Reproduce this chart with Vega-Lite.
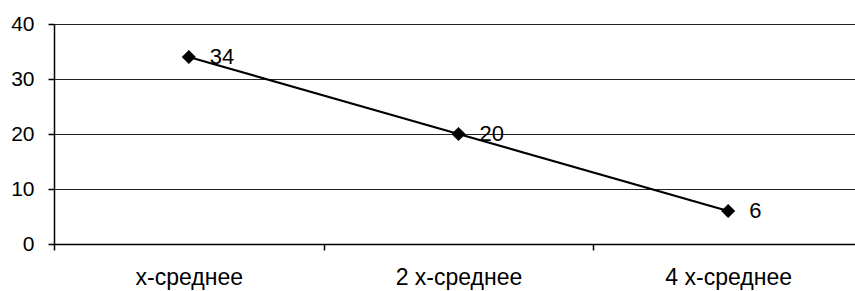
{
  "$schema": "https://vega.github.io/schema/vega-lite/v6.json",
  "autosize": "none",
  "width": 801,
  "height": 220,
  "padding": {"left": 54, "top": 24, "right": 0, "bottom": 47},
  "background": "white",
  "config": {
    "view": {"stroke": null},
    "font": "Liberation Sans"
  },
  "data": {
    "values": [
      {"category": "x-среднее", "value": 34},
      {"category": "2 x-среднее", "value": 20},
      {"category": "4 x-среднее", "value": 6}
    ]
  },
  "encoding": {
    "x": {
      "field": "category",
      "type": "nominal",
      "sort": null,
      "bandPosition": 0.5,
      "scale": {"type": "band", "paddingInner": 0, "paddingOuter": 0, "range": [0, 809]},
      "axis": {
        "title": null,
        "labelAngle": 0,
        "labelFont": "Liberation Sans",
        "labelFontSize": 23,
        "labelColor": "black",
        "labelPadding": 16,
        "tickBand": "extent",
        "ticks": true,
        "tickSize": 6,
        "tickColor": "black",
        "tickWidth": 1.5,
        "domainColor": "black",
        "domainWidth": 1.5,
        "grid": false
      }
    },
    "y": {
      "field": "value",
      "type": "quantitative",
      "scale": {"domain": [0, 40], "nice": false},
      "axis": {
        "title": null,
        "values": [0, 10, 20, 30, 40],
        "labelFont": "Liberation Sans",
        "labelFontSize": 21,
        "labelColor": "black",
        "labelPadding": 14,
        "tickSize": 6,
        "tickColor": "black",
        "tickWidth": 1.5,
        "domainColor": "black",
        "domainWidth": 1.5,
        "grid": true,
        "gridColor": "#222222",
        "gridWidth": 1.2
      }
    }
  },
  "layer": [
    {
      "mark": {"type": "line", "color": "black", "strokeWidth": 2.2}
    },
    {
      "mark": {"type": "point", "shape": "diamond", "filled": true, "color": "black", "size": 200, "opacity": 1}
    },
    {
      "mark": {"type": "text", "align": "left", "baseline": "middle", "dx": 21, "fontSize": 22, "font": "Liberation Sans", "color": "black"},
      "encoding": {"text": {"field": "value", "type": "quantitative"}}
    }
  ]
}
